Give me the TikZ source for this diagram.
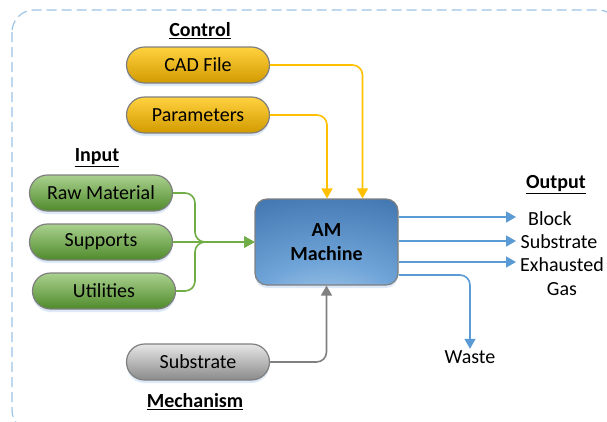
\documentclass[tikz,border=0pt]{standalone}
\usepackage{fontspec}
\setmainfont{Carlito}
\usetikzlibrary{arrows.meta,shadows}
\definecolor{yTop}{HTML}{FFD23F}
\definecolor{yBot}{HTML}{D29A00}
\definecolor{gTop}{HTML}{A9D18E}
\definecolor{gBot}{HTML}{4F8A2B}
\definecolor{grTop}{HTML}{E6E6E6}
\definecolor{grBot}{HTML}{8A8A8A}
\definecolor{edge}{HTML}{7F7F7F}
\definecolor{yLine}{HTML}{FFC000}
\definecolor{gLine}{HTML}{70AD47}
\definecolor{grLine}{HTML}{808080}
\definecolor{bLine}{HTML}{5B9BD5}
\definecolor{frame}{HTML}{9DC3E6}
\definecolor{amL}{HTML}{BDD7EE}
\definecolor{amM}{HTML}{6FA4D8}
\definecolor{amD}{HTML}{2B5F9C}
\definecolor{shadowc}{HTML}{D6E4F5}
\pgfdeclareradialshading{amglow}{\pgfpoint{0bp}{-50bp}}{color(0bp)=(amL); color(26bp)=(amM); color(68bp)=(amD); color(100bp)=(amD)}
\begin{document}
\begin{tikzpicture}[x=1pt,y=-1pt,
  every node/.style={font=\fontsize{20}{24}\selectfont},
  pill/.style={rectangle, rounded corners=18pt, minimum width=143pt, minimum height=36pt,
    draw=edge, line width=1.2pt, inner sep=0pt,
    drop shadow={shadow xshift=0pt, shadow yshift=-3pt, fill=shadowc, opacity=0.8}},
  ypill/.style={pill, top color=yTop, bottom color=yBot},
  gpill/.style={pill, top color=gTop, bottom color=gBot},
  grpill/.style={pill, top color=grTop, bottom color=grBot},
  title/.style={font=\fontsize{20}{24}\selectfont\bfseries},
  lbl/.style={inner sep=1.5pt, align=center},
  conn/.style={line width=1.6pt, rounded corners=10pt, -{Triangle[length=10pt,width=11pt]}},
  yar/.style={conn, draw=yLine, yLine},
  gar/.style={conn, draw=gLine, gLine},
  gyar/.style={conn, draw=grLine, grLine},
  bar/.style={conn, draw=bLine, bLine},
  frm/.style={draw=frame, line width=1.2pt, dash pattern=on 10pt off 5pt, rounded corners=22pt}
]
\path[use as bounding box, clip] (0,0) rectangle (607,421);
\draw[frm] (12,10) rectangle (620,432);

% titles
\node[title] (tctl) at (200,31) {\underline{Control}};
\node[title] (tin) at (97,158) {\underline{Input}};
\node[title] (tout) at (556,185) {\underline{Output}};
\node[title] (tmech) at (195,402) {\underline{Mechanism}};

% pills
\node[ypill] (cad) at (198,65) {CAD File};
\node[ypill] (par) at (198,115) {Parameters};
\node[gpill] (raw) at (101,193) {Raw Material};
\node[gpill] (sup) at (101,242) {Supports};
\node[gpill] (uti) at (104,291) {Utilities};
\node[grpill] (sub) at (198,362) {Substrate};

% machine
\node[rectangle, rounded corners=12pt, draw=edge, line width=1.2pt,
  minimum width=143pt, minimum height=86pt, shading=amglow, align=center,
  font=\fontsize{20}{24}\selectfont\bfseries,
  drop shadow={shadow xshift=0pt, shadow yshift=-3pt, fill=shadowc, opacity=0.8}]
  (am) at (326.5,242) {AM\\Machine};

% output labels
\node[lbl] (blk) at (550,219) {Block};
\node[lbl] (osub) at (559,242) {Substrate};
\node[lbl] (gas) at (562,277) {Exhausted\\Gas};
\node[lbl] (waste) at (470,357) {Waste};

% control arrows
\draw[yar] (cad.east) -| ([xshift=36pt]am.north);
\draw[yar] (par.east) -| ([xshift=0.5pt]am.north);

% input arrows
\coordinate (gj) at (195,242);
\draw[gar] (raw.east) -| (gj) -- (am.west);
\draw[gar] (uti.east) -| (gj) -- (am.west);
\draw[gar] (sup.east) -- (am.west);

% mechanism arrow
\draw[gyar] (sub.east) -| (am.south);

% outputs
\coordinate (ox) at (516,0);
\coordinate (o1) at ([yshift=25pt]am.east);
\coordinate (o2) at ([yshift=1pt]am.east);
\coordinate (o3) at ([yshift=-20pt]am.east);
\coordinate (o4) at ([yshift=-33pt]am.east);
\draw[bar] (o1) -- (o1 -| ox);
\draw[bar] (o2) -- (o2 -| ox);
\draw[bar] (o3) -- (o3 -| ox);
\draw[bar] (o4) -| (waste.north);
\end{tikzpicture}
\end{document}
